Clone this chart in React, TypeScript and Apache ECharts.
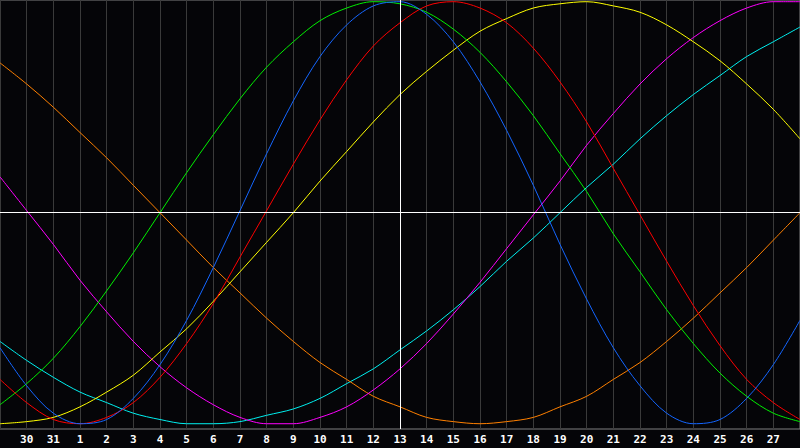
import { useEffect, useRef } from 'react';
import * as echarts from 'echarts';

// day labels, one per grid line (first and last are not drawn)
const days = [
  '29', '30', '31', '1', '2', '3', '4', '5', '6', '7', '8', '9', '10', '11', '12', '13',
  '14', '15', '16', '17', '18', '19', '20', '21', '22', '23', '24', '25', '26', '27', '28',
];

const today = '13';

// cycle values in percent, read at each day line
const physical = [
  -64, -82, -95, -100, -98, -88, -72, -51, -26, 1, 28, 53, 74, 89, 98, 100,
  94, 81, 62, 39, 13, -15, -41, -64, -82, -95, -100, -98, -88, -72, -51,
];
const emotional = [
  -79, -90, -98, -100, -97, -90, -78, -62, -43, -21, 1, 23, 44, 63, 79, 90,
  98, 100, 97, 90, 78, 62, 43, 21, -1, -23, -44, -63, -79, -90, -98,
];
const intellectual = [
  -91, -81, -69, -54, -37, -19, 0, 19, 37, 54, 69, 81, 91, 97, 100, 99,
  95, 87, 76, 62, 46, 28, 10, -10, -28, -46, -62, -76, -87, -95, -99,
];
const intuitive = [
  17, 1, -15, -32, -47, -61, -73, -83, -91, -97, -100, -100, -97, -92, -84, -74,
  -62, -48, -33, -17, -1, 15, 32, 47, 61, 73, 83, 91, 97, 100, 100,
];
const aesthetic = [
  -100, -99, -97, -92, -85, -77, -66, -55, -42, -28, -14, 0, 15, 29, 43, 56,
  67, 77, 86, 92, 97, 99, 100, 98, 95, 89, 81, 72, 61, 49, 35,
];
const awareness = [
  71, 61, 50, 38, 26, 13, 0, -13, -26, -38, -50, -61, -71, -79, -87, -92,
  -97, -99, -100, -99, -97, -92, -87, -79, -71, -61, -50, -38, -26, -13, 0,
];
const spiritual = [
  -61, -70, -78, -85, -90, -95, -98, -100, -100, -99, -96, -93, -88, -81, -74, -65,
  -56, -46, -35, -23, -12, 0, 12, 23, 35, 46, 56, 65, 74, 81, 88,
];

const cycles = [
  { name: 'Spiritual', data: spiritual, color: '#00f0f0' },
  { name: 'Awareness', data: awareness, color: '#ff8000' },
  { name: 'Intuitive', data: intuitive, color: '#ff00ff' },
  { name: 'Aesthetic', data: aesthetic, color: '#ffff00' },
  { name: 'Intellectual', data: intellectual, color: '#00f000' },
  { name: 'Emotional', data: emotional, color: '#ff0000' },
  { name: 'Physical', data: physical, color: '#1466ff' },
];

export default function App() {
  const chartRef = useRef<HTMLDivElement>(null);

  useEffect(() => {
    if (!chartRef.current) return;
    const chart = echarts.init(chartRef.current, null, { renderer: 'svg' });

    const series: any[] = cycles.map((c) => ({
      name: c.name,
      type: 'line',
      data: c.data,
      smooth: 0.33,
      symbol: 'none',
      lineStyle: { color: c.color, width: 1 },
      z: 3,
    }));

    // crosshair: zero line and today
    series.push({
      type: 'line',
      data: [],
      markLine: {
        silent: true,
        symbol: 'none',
        label: { show: false },
        lineStyle: { color: '#ffffff', width: 1, type: 'solid' },
        data: [{ yAxis: 0 }, { xAxis: today }],
      },
      z: 2,
    });

    chart.setOption({
      animation: false,
      backgroundColor: '#050508',
      grid: {
        left: 0,
        right: 0,
        top: 0,
        bottom: 19,
        show: true,
        borderColor: '#808080',
        borderWidth: 1,
      },
      xAxis: {
        type: 'category',
        data: days,
        boundaryGap: false,
        axisLine: { lineStyle: { color: '#9a9a9a' } },
        axisTick: { show: false },
        axisLabel: {
          interval: (i: number) => i > 0 && i < days.length - 1,
          color: '#ffffff',
          fontFamily: 'DejaVu Sans Mono',
          fontWeight: 'bold',
          fontSize: 11,
          margin: 5,
        },
        splitLine: { show: true, interval: 0, lineStyle: { color: '#3a3a3a', width: 1 } },
      },
      yAxis: {
        type: 'value',
        min: -102.5,
        max: 100.8,
        show: false,
        splitLine: { show: false },
      },
      series,
    });

    return () => chart.dispose();
  }, []);

  return (
    <div
      ref={chartRef}
      style={{ position: 'fixed', left: 0, top: 0, width: 800, height: 448 }}
    />
  );
}
